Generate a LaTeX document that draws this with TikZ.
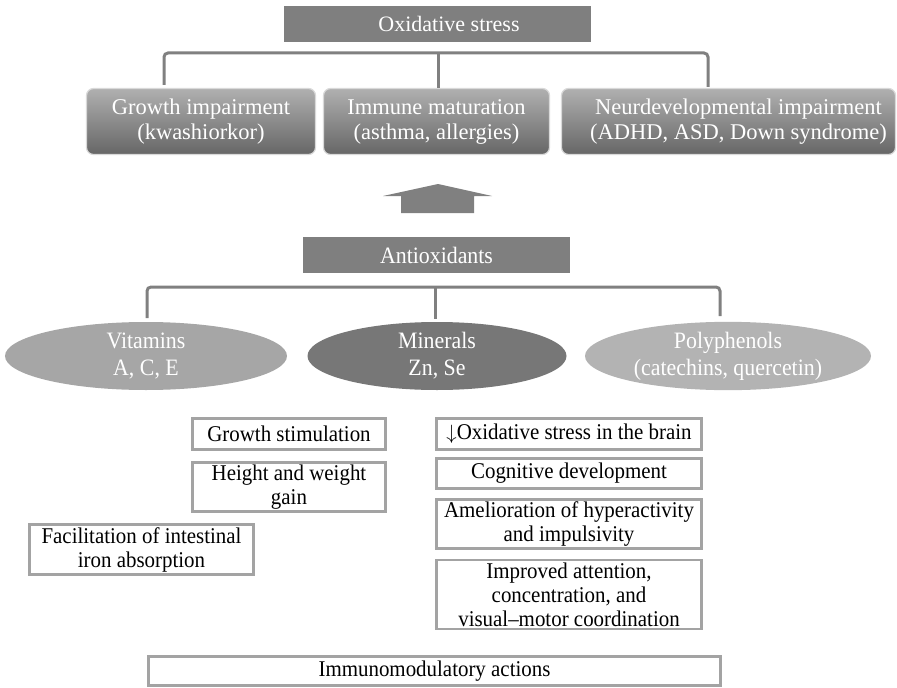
\documentclass[tikz,border=0pt]{standalone}
\usepackage{fontspec}
\setmainfont{Liberation Serif}
\newfontfamily\narrowserif[FakeStretch=0.93, Ligatures=TeX]{Liberation Serif}
\usepackage{tikz}
\usetikzlibrary{positioning,shapes.geometric}

\definecolor{headgray}{HTML}{7F7F7F}
\definecolor{linegray}{HTML}{808080}
\definecolor{framegray}{HTML}{A3A3A3}
\definecolor{vitgray}{HTML}{A6A6A6}
\definecolor{mingray}{HTML}{777777}
\definecolor{polygray}{HTML}{B3B3B3}

\tikzset{
  headbox/.style={fill=headgray, text=white, minimum width=#1, minimum height=36bp,
    inner sep=0pt, font=\fontsize{22bp}{23bp}\selectfont},
  effectbox/.style={rounded corners=7bp, top color=gray!62, bottom color=gray!80!black,
    draw=gray!30, line width=1.2bp, text=white, align=center, minimum width=#1,
    minimum height=66bp, inner sep=0pt, font=\fontsize{22.5bp}{25bp}\selectfont},
  foodoval/.style={ellipse, fill=#1, text=white, align=center, minimum height=68bp,
    inner sep=0pt, font=\narrowserif\fontsize{23.5bp}{27bp}\selectfont},
  actionbox/.style={draw=framegray, line width=2.6bp, fill=white, align=center,
    inner sep=0pt, font=\narrowserif\fontsize{22.5bp}{24bp}\selectfont},
  brace/.style={draw=linegray, line width=3bp, rounded corners=4bp},
}

\begin{document}
\begin{tikzpicture}[x=1bp, y=-1bp]
  \useasboundingbox (0,0) rectangle (897,688);

  % Oxidative stress and its effects
  \node[headbox=307bp] (stress) at (437,24) {\hspace{24bp}Oxidative stress};
  \node[effectbox=229bp] (growth) at (201,121.5) {Growth impairment\\(kwashiorkor)};
  \node[effectbox=226bp] (immune) at (436.5,121.5) {Immune maturation\\(asthma, allergies)};
  \node[effectbox=334bp] (neuro) at (728.5,121.5) {\hspace{20bp}Neurdevelopmental impairment\\\hspace{20bp}(ADHD, ASD, Down syndrome)};

  % upper bracket
  \coordinate (topleft) at (164,85);
  \coordinate (topmid) at (438,53);
  \coordinate (topright) at (708,87);
  \draw[brace] (topleft) |- (topmid) -| (topright);
  \draw[brace] (topmid) -- (topmid |- immune.north);

  % block arrow
  \fill[linegray] (401,213) -- (401,196) -- (383,196) -- (438,184) -- (492,196)
    -- (474,196) -- (474,213) -- cycle;

  % Antioxidants and their groups
  \node[headbox=267bp, font=\narrowserif\fontsize{23.5bp}{24bp}\selectfont] (antiox) at (436.5,255) {Antioxidants};
  \node[foodoval=vitgray, minimum width=282bp] (vitamins) at (146,356) {Vitamins\\A, C, E};
  \node[foodoval=mingray, minimum width=259bp] (minerals) at (437,356) {Minerals\\Zn, Se};
  \node[foodoval=polygray, minimum width=286bp] (polyphenols) at (728,356) {Polyphenols\\(catechins, quercetin)};

  % lower bracket
  \coordinate (lowleft) at (147,318);
  \coordinate (lowmid) at (435,287);
  \coordinate (lowright) at (720,316);
  \draw[brace] (lowleft) |- (lowmid) -| (lowright);
  \draw[brace] (lowmid) -- (435,319);

  % actions
  \node[actionbox, minimum width=193bp, minimum height=31bp] (stimulation) at (289,434) {Growth stimulation};
  \node[actionbox, minimum width=193bp, minimum height=49bp] (gain) at (289,487) {Height and weight\\gain};
  \node[actionbox, minimum width=224bp, minimum height=50bp] (iron) at (141.5,549.5) {Facilitation of intestinal\\iron absorption};
  \node[actionbox, minimum width=265bp, minimum height=31bp] (brain) at (569,434) {$\downarrow$Oxidative stress in the brain};
  \node[actionbox, minimum width=265bp, minimum height=30bp] (cognition) at (569,473.5) {Cognitive development};
  \node[actionbox, minimum width=265bp, minimum height=49bp] (hyper) at (569,524) {Amelioration of hyperactivity\\and impulsivity};
  \node[actionbox, minimum width=265bp, minimum height=69bp] (attention) at (569,594.5) {Improved attention,\\concentration, and\\visual--motor coordination};
  \node[actionbox, minimum width=572bp, minimum height=29bp] (immuno) at (434.5,671) {Immunomodulatory actions};
\end{tikzpicture}
\end{document}
